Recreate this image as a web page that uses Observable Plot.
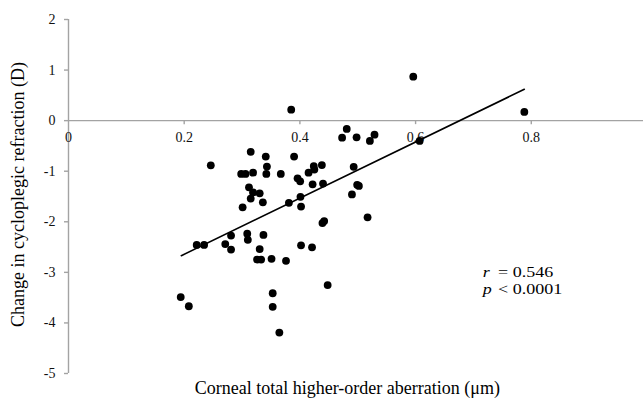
<!DOCTYPE html>
<html><head><meta charset="utf-8">
<script src="https://cdn.jsdelivr.net/npm/d3@7"></script>
<script src="https://cdn.jsdelivr.net/npm/@observablehq/plot@0.6"></script>
<style>html,body{margin:0;padding:0;background:#fff}</style>
</head><body><div id="chart"></div>
<script>
// Corneal total higher-order aberration (µm)
const hoa = [0.385,0.596,0.788,0.481,0.473,0.498,0.521,0.529,0.607,0.246,
  0.315,0.341,0.390,0.343,0.2985,0.306,0.319,0.342,0.367,0.396,
  0.4005,0.415,0.424,0.425,0.438,0.422,0.440,0.493,0.499,0.502,
  0.490,0.312,0.319,0.3305,0.315,0.336,0.301,0.381,0.401,0.402,
  0.439,0.442,0.517,0.2216,0.2344,0.281,0.271,0.281,0.309,0.310,
  0.337,0.3305,0.402,0.421,0.326,0.333,0.351,0.376,0.448,0.194,
  0.208,0.353,0.353,0.3645];
// Change in cycloplegic refraction (D)
const change = [0.217,0.870,0.172,-0.164,-0.336,-0.330,-0.401,-0.277,-0.401,-0.883,
  -0.617,-0.711,-0.711,-0.909,-1.053,-1.053,-1.028,-1.053,-1.053,-1.140,
  -1.200,-1.028,-0.899,-0.968,-0.879,-1.259,-1.245,-0.913,-1.269,-1.291,
  -1.458,-1.318,-1.419,-1.437,-1.541,-1.615,-1.715,-1.625,-1.506,-1.700,
  -2.026,-1.986,-1.911,-2.457,-2.457,-2.273,-2.441,-2.549,-2.237,-2.356,
  -2.259,-2.540,-2.466,-2.506,-2.747,-2.747,-2.733,-2.771,-3.251,-3.488,
  -3.670,-3.413,-3.682,-4.190];
// Fitted regression line end points
const fitX = [0.195, 0.788];
const fitY = [-2.67, 0.62];
// Tick labels
const xTicks = [0, 0.2, 0.4, 0.6, 0.8];
const yTicks = [-5, -4, -3, -2, -1, 0, 1, 2];
// Texts
const xTitle = "Corneal total higher-order aberration (μm)";
const yTitle = "Change in cycloplegic refraction (D)";
const statSymbols = ["r", "p"];
const statValues = ["= 0.546", "< 0.0001"];
const statX = 0.716;
const statY = -3.151;

const points = hoa.map((x, i) => ({x, y: change[i]}));
const fit = fitX.map((x, i) => ({x, y: fitY[i]}));

const gray = "#a3a3a3";
const font = "'Liberation Serif', 'Times New Roman', serif";

const chart = Plot.plot({
  width: 643,
  height: 405,
  marginLeft: 68,
  marginRight: 0,
  marginTop: 19,
  marginBottom: 32,
  x: {domain: [0, 0.994], axis: null},
  y: {domain: [-5, 2], axis: null},
  style: {fontFamily: font, background: "#fff", color: "#000", overflow: "visible"},
  marks: [
    Plot.ruleX([0], {stroke: gray, strokeWidth: 1.4}),
    Plot.ruleY(yTicks, {y: d => d, x1: 0, x2: 0, insetLeft: -4, stroke: gray, strokeWidth: 1.4}),
    Plot.text(yTicks, {x: 0, y: d => d, text: d => String(d), textAnchor: "end", dx: -13, fontSize: 14, fill: "#111"}),
    Plot.ruleY([0], {stroke: gray, strokeWidth: 1.4}),
    Plot.ruleX(xTicks.slice(1), {x: d => d, y1: 0, y2: 0, insetBottom: -4, stroke: gray, strokeWidth: 1.4}),
    Plot.text(xTicks, {x: d => d, y: 0, text: d => String(d), dy: 17, fontSize: 14, fill: "#111"}),
    Plot.line(fit, {x: "x", y: "y", stroke: "#000", strokeWidth: 1.6}),
    Plot.dot(points, {x: "x", y: "y", r: 3.9, fill: "#000", stroke: null}),
    Plot.text([statSymbols.join("\n")], {x: statX, y: statY, text: d => d, fontStyle: "italic", textAnchor: "start", lineHeight: 1.1667, fontSize: 15, fill: "#000", className: "stat"}),
    Plot.text([statValues.join("\n")], {x: statX, y: statY, text: d => d, textAnchor: "start", dx: 15.4, lineHeight: 1.1667, fontSize: 15, fill: "#000", className: "stat"}),
    Plot.text([xTitle], {x: 0.482, frameAnchor: "bottom", text: d => d, dy: 20, fontSize: 18, fill: "#000"}),
    Plot.text([yTitle], {frameAnchor: "left", text: d => d, rotate: -90, textAnchor: "middle", dx: -50, dy: -2, fontSize: 18, fill: "#000"})
  ]
});
// widen the statistics text horizontally, as in the reference
d3.select(chart).selectAll(".stat text").attr("transform", function() {
  const t = this.getAttribute("transform") || "";
  return t + " scale(1.2,1)";
});
document.getElementById("chart").appendChild(chart);
</script>
</body></html>
